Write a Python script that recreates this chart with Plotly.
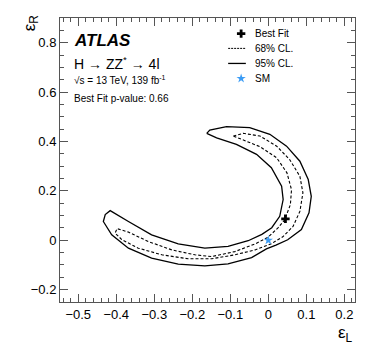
import plotly.graph_objects as go

# 95% CL contour (solid), closed path in (eps_L, eps_R)
cl95_x = [-0.162, -0.154, -0.110, -0.049, 0.004, 0.048, 0.083, 0.105, 0.113, 0.107,
          0.087, 0.051, 0.020, -0.005, -0.044, -0.106, -0.167, -0.237, -0.307, -0.368,
          -0.412, -0.434, -0.429, -0.416,
          -0.368, -0.307, -0.237, -0.167, -0.106, -0.053, -0.017, 0.009, 0.030, 0.039,
          0.035, 0.008, -0.031, -0.084, -0.136, -0.162]
cl95_y = [0.433, 0.446, 0.460, 0.456, 0.429, 0.381, 0.320, 0.246, 0.178, 0.111,
          0.043, 0.002, -0.020, -0.035, -0.070, -0.096, -0.104, -0.097, -0.072, -0.032,
          0.022, 0.076, 0.104, 0.120,
          0.076, 0.022, -0.015, -0.032, -0.025, -0.002, 0.024, 0.051, 0.097, 0.165,
          0.219, 0.294, 0.348, 0.388, 0.415, 0.433]

# 68% CL contour (dashed)
cl68_x = [-0.092, -0.066, -0.022, 0.022, 0.056, 0.083, 0.091, 0.083, 0.065, 0.038,
          0.008, -0.035, -0.088, -0.149, -0.211, -0.280, -0.342, -0.385, -0.403, -0.398,
          -0.368, -0.316, -0.254, -0.193, -0.149, -0.088, -0.035, -0.001, 0.026, 0.043,
          0.058, 0.061, 0.049, 0.022, -0.022, -0.066, -0.092]
cl68_y = [0.422, 0.433, 0.422, 0.381, 0.327, 0.259, 0.192, 0.117, 0.056, 0.014,
          -0.014, -0.039, -0.059, -0.075, -0.075, -0.059, -0.032, 0.002, 0.029, 0.047,
          0.033, -0.005, -0.039, -0.059, -0.066, -0.046, -0.015, 0.012, 0.051, 0.083,
          0.144, 0.205, 0.273, 0.334, 0.379, 0.406, 0.422]

best_fit = (0.045, 0.087)
sm_point = (0.0, 0.0)

legend_labels = ["Best Fit", "68% CL.", "95% CL.", "SM"]

x_range = [-0.548, 0.228]
y_range = [-0.25, 0.9]

FONT = "Liberation Sans, Arial, Helvetica, sans-serif"
SM_BLUE = "#3b9cf5"
FRAME = "#555"


def px(fx):
    # paper fraction -> data x (legend placement only)
    return x_range[0] + fx * (x_range[1] - x_range[0])


def py(fy):
    return y_range[0] + fy * (y_range[1] - y_range[0])


fig = go.Figure()

fig.add_trace(go.Scatter(x=cl95_x, y=cl95_y, mode="lines",
                         line=dict(color="black", width=1.3), showlegend=False))
fig.add_trace(go.Scatter(x=cl68_x, y=cl68_y, mode="lines",
                         line=dict(color="black", width=1.1, dash="3px,2px"), showlegend=False))
fig.add_trace(go.Scatter(x=[best_fit[0]], y=[best_fit[1]], mode="markers",
                         marker=dict(symbol="cross", size=7, color="black"), showlegend=False))
fig.add_trace(go.Scatter(x=[sm_point[0]], y=[sm_point[1]], mode="markers",
                         marker=dict(symbol="star", size=7, color=SM_BLUE), showlegend=False))

# hand-made ROOT style legend
leg_y = [0.945, 0.893, 0.84, 0.787]
fig.add_trace(go.Scatter(x=[px(0.614)], y=[py(leg_y[0])], mode="markers",
                         marker=dict(symbol="cross", size=7, color="black"), showlegend=False))
fig.add_trace(go.Scatter(x=[px(0.57), px(0.63)], y=[py(leg_y[1])] * 2, mode="lines",
                         line=dict(color="black", width=1, dash="2px,1px"), showlegend=False))
fig.add_trace(go.Scatter(x=[px(0.57), px(0.63)], y=[py(leg_y[2])] * 2, mode="lines",
                         line=dict(color="black", width=1.3), showlegend=False))
fig.add_trace(go.Scatter(x=[px(0.614)], y=[py(leg_y[3])], mode="markers",
                         marker=dict(symbol="star", size=7, color=SM_BLUE), showlegend=False))

annotations = []
for lab, yy in zip(legend_labels, leg_y):
    annotations.append(dict(x=0.655, y=yy, xref="paper", yref="paper", text=lab,
                            showarrow=False, xanchor="left", yanchor="middle",
                            font=dict(size=10, color="black", family=FONT)))

annotations += [
    dict(x=0.04, y=0.922, xref="paper", yref="paper", text="<b><i>ATLAS</i></b>",
         showarrow=False, xanchor="left", yanchor="middle",
         font=dict(size=17, color="black", family=FONT)),
    dict(x=0.04, y=0.843, xref="paper", yref="paper", text="H → ZZ<sup>*</sup> → 4l",
         showarrow=False, xanchor="left", yanchor="middle",
         font=dict(size=14, color="black", family=FONT)),
    dict(x=0.04, y=0.782, xref="paper", yref="paper", text="√s = 13 TeV, 139 fb<sup>-1</sup>",
         showarrow=False, xanchor="left", yanchor="middle",
         font=dict(size=10, color="black", family=FONT)),
    dict(x=0.04, y=0.718, xref="paper", yref="paper", text="Best Fit p-value: 0.66",
         showarrow=False, xanchor="left", yanchor="middle",
         font=dict(size=10, color="black", family=FONT)),
    dict(x=1.0, y=-0.068, xref="paper", yref="paper", text="ε<sub>L</sub>",
         showarrow=False, xanchor="right", yanchor="top",
         font=dict(size=17, color="black", family=FONT)),
    dict(x=-0.1, y=1.02, xref="paper", yref="paper", text="ε<sub>R</sub>", textangle=-90,
         showarrow=False, xanchor="center", yanchor="top",
         font=dict(size=17, color="black", family=FONT)),
]

axis_common = dict(
    showline=True, linecolor=FRAME, linewidth=1, mirror="allticks",
    ticks="inside", ticklen=8, tickwidth=1, tickcolor=FRAME,
    showgrid=False, zeroline=False,
    tickfont=dict(size=13, color="black", family=FONT),
)

fig.update_layout(
    width=366, height=351,
    margin=dict(l=52, r=19, t=10, b=57),
    plot_bgcolor="white", paper_bgcolor="white",
    font=dict(family=FONT, color="black"),
    showlegend=False,
    xaxis=dict(range=x_range, dtick=0.1,
               minor=dict(dtick=0.02, ticks="inside", ticklen=4, tickcolor=FRAME),
               **axis_common),
    yaxis=dict(range=y_range, dtick=0.2,
               minor=dict(dtick=0.05, ticks="inside", ticklen=4, tickcolor=FRAME),
               **axis_common),
    annotations=annotations,
)

fig.write_html("out.html")
